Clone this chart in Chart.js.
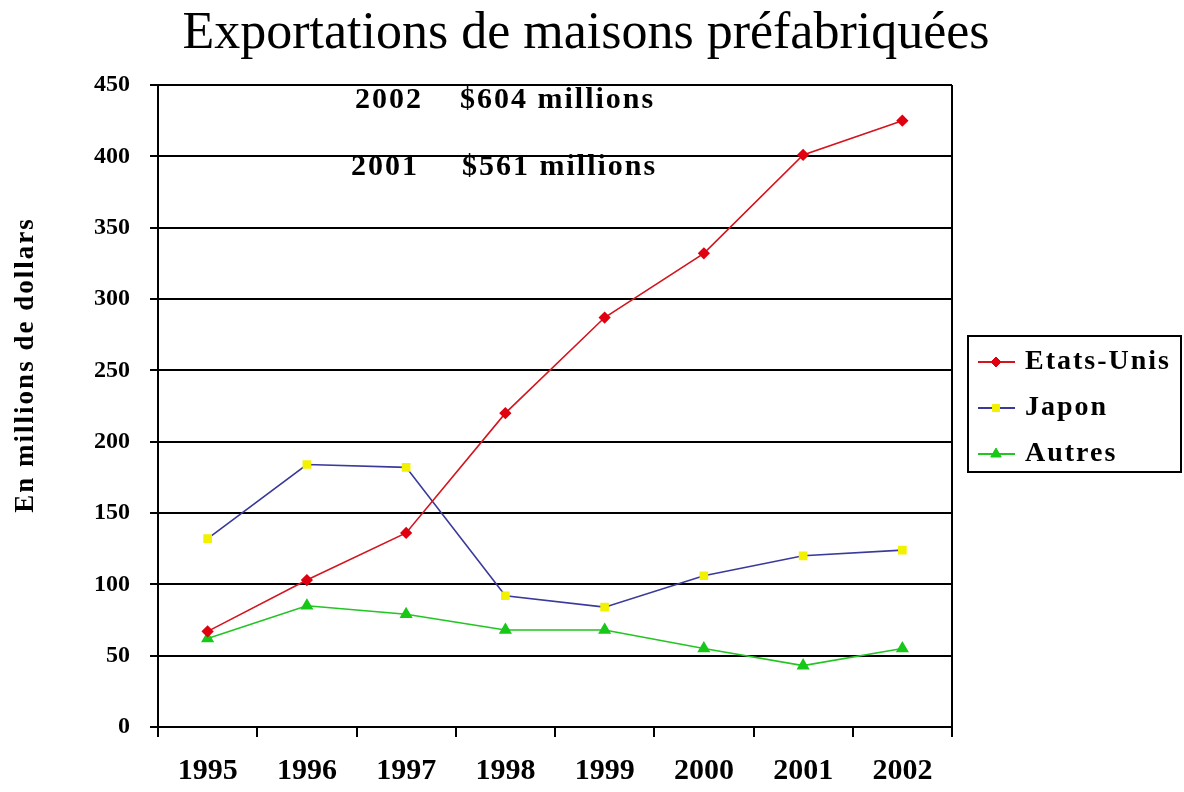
<!DOCTYPE html>
<html>
<head>
<meta charset="utf-8">
<title>Exportations de maisons préfabriquées</title>
<script src="https://cdn.jsdelivr.net/npm/chart.js@4.4.1/dist/chart.umd.min.js"></script>
<style>
  html, body { margin: 0; padding: 0; background: #fff; }
  #wrap { width: 1184px; height: 792px; }
</style>
</head>
<body>
<div id="wrap"><canvas id="chart"></canvas></div>
<script>
// values (millions of dollars)
var years = ['1995', '1996', '1997', '1998', '1999', '2000', '2001', '2002'];
var etatsUnis = [67, 103, 136, 220, 287, 332, 401, 425];
var japon = [132, 184, 182, 92, 84, 106, 120, 124];
var autres = [62, 85, 79, 68, 68, 55, 43, 55];
var noteYears = ['2002', '2001'];
var noteTotals = ['$604 millions', '$561 millions'];
var noteLevels = [439, 392];

var serif = '"Liberation Serif", "Times New Roman", serif';
var chartTitle = 'Exportations de maisons préfabriquées';
var yTitle = 'En millions de dollars';

// draw legend markers with their colours
function legendMarker(ctx, ds, x, y) {
    ctx.fillStyle = ds.pointBackgroundColor;
    ctx.strokeStyle = ds.pointBorderColor;
    ctx.lineWidth = 1;
    Chart.helpers.drawPoint(ctx, {
        pointStyle: ds.pointStyle, radius: ds.pointRadius, rotation: 0, borderWidth: 1
    }, x, y);
}

// title, frame, y title, notes and the boxed legend on the right
var extras = {
    id: 'extras',
    afterDraw: function(chart) {
        var ctx = chart.ctx;
        var a = chart.chartArea;
        var y = chart.scales.y;
        ctx.save();
        ctx.strokeStyle = '#000';
        ctx.lineWidth = 2;
        ctx.beginPath();
        ctx.moveTo(a.right, a.top);
        ctx.lineTo(a.right, a.bottom + 10);
        ctx.stroke();

        ctx.fillStyle = '#000';
        ctx.textBaseline = 'middle';

        // title
        ctx.textAlign = 'center';
        ctx.font = 'normal 52px ' + serif;
        ctx.fillText(chartTitle, 586, 34);

        // notes
        ctx.letterSpacing = '2px';
        ctx.font = 'bold 30px ' + serif;
        ctx.textAlign = 'left';
        for (var i = 0; i < noteYears.length; i++) {
            var ny = y.getPixelForValue(noteLevels[i]);
            ctx.fillText(noteYears[i], a.left + 197 - i * 4, ny);
            ctx.fillText(noteTotals[i], a.left + 302 + i * 2, ny);
        }

        // y axis title
        ctx.save();
        ctx.translate(26, 365);
        ctx.rotate(-Math.PI / 2);
        ctx.textAlign = 'center';
        ctx.font = 'bold 27px ' + serif;
        ctx.fillText(yTitle, 0, 0);
        ctx.restore();

        // legend
        var bx = a.right + 16, by = 336, bw = 213, bh = 136;
        ctx.lineWidth = 2;
        ctx.strokeStyle = '#000';
        ctx.strokeRect(bx, by, bw, bh);
        ctx.font = 'bold 28px ' + serif;
        ctx.textAlign = 'left';
        chart.data.datasets.forEach(function(ds, k) {
            var ly = by + 26 + k * 46;
            ctx.strokeStyle = ds.borderColor;
            ctx.lineWidth = 2;
            ctx.beginPath();
            ctx.moveTo(bx + 10, ly);
            ctx.lineTo(bx + 47, ly);
            ctx.stroke();
            legendMarker(ctx, ds, bx + 28, ly);
            ctx.fillStyle = '#000';
            ctx.fillText(ds.label, bx + 57, ly);
        });
        ctx.restore();
    }
};

var ctx = document.getElementById('chart').getContext('2d');
new Chart(ctx, {
    type: 'line',
    data: {
        labels: years,
        datasets: [{
            label: 'Etats-Unis',
            data: etatsUnis,
            borderColor: '#d4141e',
            borderWidth: 1.6,
            pointStyle: 'rectRot',
            pointRadius: 5,
            pointBackgroundColor: '#e00010',
            pointBorderColor: '#e00010',
            tension: 0
        }, {
            label: 'Japon',
            data: japon,
            borderColor: '#3a3a9c',
            borderWidth: 1.6,
            pointStyle: 'rect',
            pointRadius: 5,
            pointBackgroundColor: '#f2f200',
            pointBorderColor: '#f2f200',
            tension: 0
        }, {
            label: 'Autres',
            data: autres,
            borderColor: '#22c522',
            borderWidth: 1.6,
            pointStyle: 'triangle',
            pointRadius: 6,
            pointBackgroundColor: '#18c818',
            pointBorderColor: '#18c818',
            tension: 0
        }]
    },
    options: {
        responsive: true,
        maintainAspectRatio: false,
        animation: false,
        layout: { padding: { top: 85, right: 232, bottom: 0, left: 0 } },
        plugins: {
            legend: { display: false },
            tooltip: { enabled: false },
            title: { display: false }
        },
        scales: {
            x: {
                offset: true,
                grid: {
                    offset: true,
                    drawOnChartArea: false,
                    drawTicks: true,
                    tickLength: 10,
                    color: '#000',
                    lineWidth: 2
                },
                border: { display: true, color: '#000', width: 2 },
                ticks: {
                    color: '#000',
                    padding: 16,
                    maxRotation: 0,
                    font: { family: serif, size: 30, weight: 'bold' }
                },
                afterFit: function(s) { s.height = 65; }
            },
            y: {
                min: 0,
                max: 450,
                grid: {
                    color: '#000',
                    lineWidth: 2,
                    drawTicks: true,
                    tickLength: 8
                },
                border: { display: true, color: '#000', width: 2 },
                ticks: {
                    stepSize: 50,
                    color: '#000',
                    padding: 20,
                    font: { family: serif, size: 24, weight: 'bold' }
                },
                afterFit: function(s) { s.width = 158; }
            }
        }
    },
    plugins: [extras]
});
</script>
</body>
</html>
